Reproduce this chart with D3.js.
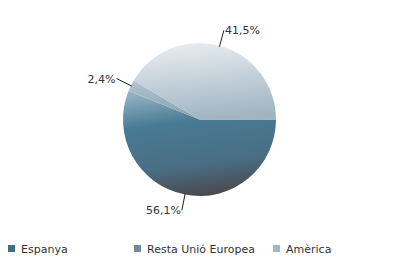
<!DOCTYPE html>
<html>
<head>
<meta charset="utf-8">
<script src="https://cdn.jsdelivr.net/npm/d3@7"></script>
<style>
  body { margin: 0; background: #fff; }
  text { font-family: "DejaVu Sans", sans-serif; font-size: 11px; fill: #333; }
</style>
</head>
<body>
<div id="chart"></div>
<script>
// chart data
var categories = ["Espanya", "Resta Unió Europea", "Amèrica"];
var values = [56.1, 2.4, 41.5];
var labels = ["56,1%", "2,4%", "41,5%"];

var width = 398, height = 274;
var cx = 199.5, cy = 119.5, radius = 76.5;

// gradient stops per slice, spread over each slice's own box
var gradStops = [
  [["0%", "#8fb0c2"], ["30%", "#477a93"], ["70%", "#4a6f85"], ["100%", "#4a4a4e"]],
  [["0%", "#b0c2cd"], ["100%", "#8aa2b2"]],
  [["0%", "#e8edf1"], ["100%", "#a0b4c2"]]
];
var legendColors = ["#3f6d86", "#6c8aa0", "#a3b5c3"];

var svg = d3.select("#chart").append("svg")
    .attr("width", width)
    .attr("height", height);

var defs = svg.append("defs");
gradStops.forEach(function(stops, i) {
  var lg = defs.append("linearGradient")
      .attr("id", "grad" + i)
      .attr("x1", 0.3).attr("y1", 0)
      .attr("x2", 0.5).attr("y2", 1);
  stops.forEach(function(s) {
    lg.append("stop").attr("offset", s[0]).attr("stop-color", s[1]);
  });
});

var pie = d3.pie()
    .sort(null)
    .startAngle(Math.PI / 2)
    .endAngle(Math.PI / 2 + 2 * Math.PI)
    .value(function(d) { return d; });

var arc = d3.arc().innerRadius(0).outerRadius(radius);

var arcs = pie(values);

var g = svg.append("g")
    .attr("transform", "translate(" + cx + "," + cy + ")");

g.selectAll("path.slice")
    .data(arcs)
    .enter().append("path")
    .attr("class", "slice")
    .attr("d", arc)
    .attr("fill", function(d, i) { return "url(#grad" + i + ")"; });

// label leader lines
function pt(a, r) { return [Math.sin(a) * r, -Math.cos(a) * r]; }

arcs.forEach(function(d, i) {
  var mid = (d.startAngle + d.endAngle) / 2;
  var p1 = pt(mid, radius - 1);
  var p2 = pt(mid, radius + 16);
  g.append("line")
      .attr("x1", p1[0]).attr("y1", p1[1])
      .attr("x2", p2[0]).attr("y2", p2[1])
      .attr("stroke", "#222")
      .attr("stroke-width", 1);
  var right = Math.sin(mid) >= 0;
  g.append("text")
      .attr("x", p2[0] + (right ? 1 : -1))
      .attr("y", p2[1] + 4)
      .attr("text-anchor", right ? "start" : "end")
      .text(labels[i]);
});

// legend
var legendX = [8, 134, 273];
var legend = svg.selectAll("g.legend")
    .data(categories)
    .enter().append("g")
    .attr("class", "legend")
    .attr("transform", function(d, i) { return "translate(" + legendX[i] + ",245)"; });

legend.append("rect")
    .attr("width", 7).attr("height", 7)
    .attr("fill", function(d, i) { return legendColors[i]; });

legend.append("text")
    .attr("x", 13)
    .attr("y", 7.5)
    .text(function(d) { return d; });
</script>
</body>
</html>
